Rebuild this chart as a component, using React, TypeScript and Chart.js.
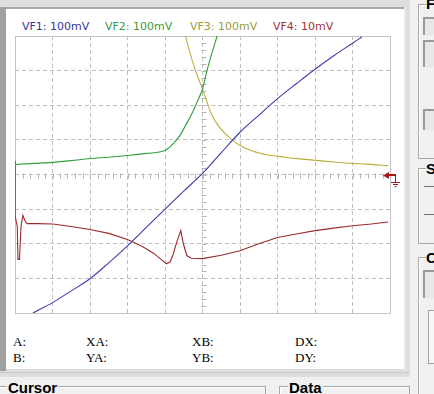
import React, { useEffect, useRef } from "react";
import { Chart, registerables } from "chart.js";

Chart.register(...registerables);

// ---- data (units: screen divisions) ----
const seriesLabels = ["VF1: 100mV", "VF2: 100mV", "VF3: 100mV", "VF4: 10mV"];
const seriesColors = ["#3c3caa", "#2f9e3a", "#bcae3c", "#9c2a2a"];
const labelColors = ["#34349a", "#3a9a3a", "#9a9a3a", "#9a3434"];
const labelLefts = [22, 105, 190, 273];

const vf1X = [0.48, 1.0, 1.5, 2.0, 2.5, 3.0, 3.5, 4.0, 4.5, 5.0, 5.5, 6.0, 6.5, 7.0, 7.5, 8.0, 8.5, 9.0, 9.25];
const vf1Y = [-4.0, -3.7, -3.36, -3.01, -2.55, -2.06, -1.53, -1.0, -0.48, 0.03, 0.63, 1.22, 1.71, 2.19, 2.62, 3.04, 3.43, 3.79, 3.97];

const vf2X = [0, 0.5, 1, 1.5, 2, 2.5, 3, 3.5, 4.0, 4.1, 4.25, 4.4, 4.55, 4.7, 4.85, 5.0, 5.12, 5.25, 5.39, 5.5];
const vf2Y = [0.29, 0.32, 0.35, 0.4, 0.46, 0.5, 0.55, 0.61, 0.69, 0.77, 0.93, 1.13, 1.42, 1.72, 2.08, 2.47, 3.0, 3.5, 4.0, 4.4];

const vf3X = [4.42, 4.55, 4.65, 4.75, 4.88, 5.0, 5.07, 5.25, 5.47, 5.73, 6.0, 6.35, 6.72, 7.2, 7.6, 8.1, 8.5, 9.0, 9.4, 9.95];
const vf3Y = [4.4, 3.98, 3.58, 3.21, 2.8, 2.47, 2.25, 1.72, 1.34, 1.06, 0.84, 0.67, 0.57, 0.5, 0.45, 0.4, 0.36, 0.32, 0.3, 0.25];

const vf4X = [0, 0.005, 0.06, 0.08, 0.12, 0.16, 0.21, 0.26, 0.32, 0.6, 1.0, 1.5, 2.0, 2.5, 3.0, 3.4, 3.7, 4.04, 4.14, 4.22, 4.31, 4.42, 4.49, 4.58, 4.7, 5.0, 5.5, 6.0, 6.5, 7.0, 7.5, 8.0, 8.5, 9.0, 9.5, 9.95];
const vf4Y = [0.4, -1.2, -1.5, -2.45, -2.45, -1.5, -1.18, -1.32, -1.42, -1.42, -1.43, -1.5, -1.59, -1.7, -1.88, -2.08, -2.28, -2.58, -2.52, -2.3, -1.96, -1.62, -2.0, -2.34, -2.42, -2.43, -2.33, -2.2, -2.0, -1.82, -1.72, -1.62, -1.55, -1.48, -1.43, -1.37];

const xMin = 0;
const xMax = 10;
const yMin = -4;
const yMax = 4;
const xCenter = 5;
const yCenter = 0;

const cursorRow1 = ["A:", "XA:", "XB:", "DX:"];
const cursorRow2 = ["B:", "YA:", "YB:", "DY:"];
const cursorLefts = [13, 86, 192, 295];

const seriesX = [vf1X, vf2X, vf3X, vf4X];
const seriesY = [vf1Y, vf2Y, vf3Y, vf4Y];

const graticulePlugin = {
  id: "graticule",
  beforeDatasetsDraw(chart: any) {
    const { ctx, chartArea: a, scales } = chart;
    const x = scales.x;
    const y = scales.y;
    ctx.save();
    ctx.strokeStyle = "#b4b4b4";
    ctx.lineWidth = 1;
    const cx = Math.round(x.getPixelForValue(xCenter)) + 0.5;
    const cy = Math.round(y.getPixelForValue(yCenter)) + 0.5;
    ctx.beginPath();
    for (let i = 1; i < 50; i++) {
      const v = xMin + (i * (xMax - xMin)) / 50;
      const px = Math.round(x.getPixelForValue(v)) + 0.5;
      ctx.moveTo(px, cy - 2);
      ctx.lineTo(px, cy + 3);
    }
    for (let i = 1; i < 40; i++) {
      const v = yMin + (i * (yMax - yMin)) / 40;
      const py = Math.round(y.getPixelForValue(v)) + 0.5;
      ctx.moveTo(cx - 2, py);
      ctx.lineTo(cx + 3, py);
    }
    ctx.stroke();
    ctx.strokeStyle = "#c4c4c4";
    ctx.strokeRect(
      Math.round(a.left) + 0.5,
      Math.round(a.top) + 0.5,
      Math.round(a.right) - Math.round(a.left),
      Math.round(a.bottom) - Math.round(a.top)
    );
    ctx.restore();
  },
  afterDraw(chart: any) {
    const { ctx, chartArea: a, scales } = chart;
    const cy = Math.round(scales.y.getPixelForValue(yCenter));
    const tip = Math.round(a.right) - 7;
    ctx.save();
    ctx.fillStyle = "#a81616";
    ctx.strokeStyle = "#a81616";
    ctx.beginPath();
    ctx.moveTo(tip, cy + 0.5);
    ctx.lineTo(tip + 6, cy - 3);
    ctx.lineTo(tip + 6, cy + 4);
    ctx.closePath();
    ctx.fill();
    ctx.fillRect(tip + 6, cy - 1, 7, 2);
    ctx.fillRect(tip + 12, cy - 1, 1, 8);
    ctx.fillRect(tip + 8, cy + 7, 9, 1);
    ctx.fillRect(tip + 10, cy + 9, 5, 1);
    ctx.fillRect(tip + 11.5, cy + 11, 2, 1);
    ctx.restore();
  },
};

function ChartPanel() {
  const ref = useRef<HTMLCanvasElement | null>(null);
  useEffect(() => {
    if (!ref.current) return;
    const datasets = seriesLabels.map((label, i) => ({
      label,
      data: seriesX[i].map((xv, j) => ({ x: xv, y: seriesY[i][j] })),
      borderColor: seriesColors[i],
      backgroundColor: seriesColors[i],
      borderWidth: 1.1,
      pointRadius: 0,
      fill: false,
      tension: 0,
      cubicInterpolationMode: i === 3 ? "default" : "monotone",
    }));
    const chart = new Chart(ref.current, {
      type: "line",
      data: { datasets: datasets as any },
      options: {
        animation: false,
        responsive: false,
        devicePixelRatio: 1,
        layout: { padding: { left: 3, top: 3, right: 12, bottom: 3 } },
        plugins: { legend: { display: false }, tooltip: { enabled: false } },
        events: [],
        scales: {
          x: {
            type: "linear",
            min: xMin,
            max: xMax,
            ticks: { display: false, stepSize: 1 },
            grid: { color: "#c0c0c0", drawTicks: false, lineWidth: 1 },
            border: { display: false, dash: [4, 3] },
          },
          y: {
            type: "linear",
            min: yMin,
            max: yMax,
            ticks: { display: false, stepSize: 1 },
            grid: { color: "#c0c0c0", drawTicks: false, lineWidth: 1 },
            border: { display: false, dash: [4, 3] },
          },
        },
      } as any,
      plugins: [graticulePlugin],
    });
    return () => chart.destroy();
  }, []);
  return (
    <canvas
      ref={ref}
      width={390}
      height={283}
      style={{ position: "absolute", left: 12, top: 33, width: 390, height: 283 }}
    />
  );
}

const abs = (l: number, t: number, w: number, h: number, extra: any = {}) => ({
  position: "absolute" as const,
  left: l,
  top: t,
  width: w,
  height: h,
  ...extra,
});

export default function App() {
  const serif = { fontFamily: "'Liberation Serif', 'Times New Roman', serif", fontSize: 13, lineHeight: "15px", color: "#000" };
  const bold = { fontFamily: "'Liberation Sans', Arial, sans-serif", fontWeight: 700, fontSize: 15, lineHeight: "17px", color: "#000", background: "#f0f0f0" };
  return (
    <div style={{ position: "fixed", left: 0, top: 0, width: 434, height: 394, overflow: "hidden", background: "#f0f0f0" }}>
      {/* main scope panel frame */}
      <div style={abs(0, 0, 410, 377, { background: "#dedede" })} />
      <div style={abs(0, 7, 406, 2, { background: "#a8a8a8" })} />
      <div style={abs(0, 7, 6, 364, { background: "#a0a0a0" })} />
      <div style={abs(404, 7, 2, 364, { background: "#e8e8e8" })} />
      <div style={abs(0, 372, 410, 1, { background: "#c8c8c8" })} />
      <div style={abs(6, 9, 398, 360, { background: "#ffffff" })} />

      {/* channel labels */}
      {seriesLabels.map((t, i) => (
        <span
          key={t}
          style={{
            position: "absolute",
            left: labelLefts[i],
            top: 20,
            fontFamily: "'DejaVu Sans', Verdana, sans-serif",
            fontSize: 11,
            lineHeight: "13px",
            color: labelColors[i],
            whiteSpace: "nowrap",
          }}
        >
          {t}
        </span>
      ))}

      <ChartPanel />

      {/* cursor readouts */}
      {cursorRow1.map((t, i) => (
        <span key={"r1" + t} style={{ position: "absolute", left: cursorLefts[i], top: 334, ...serif }}>{t}</span>
      ))}
      {cursorRow2.map((t, i) => (
        <span key={"r2" + t} style={{ position: "absolute", left: cursorLefts[i], top: 350, ...serif }}>{t}</span>
      ))}

      {/* bottom group boxes */}
      <div style={abs(0, 386, 265, 20, { borderTop: "1px solid #a8a8a8", borderRight: "1px solid #a8a8a8", boxShadow: "inset 0 1px 0 #fff" })} />
      <span style={{ position: "absolute", left: 7, top: 379, padding: "0 1px", ...bold }}>Cursor</span>
      <div style={abs(279, 386, 129, 20, { borderTop: "1px solid #a8a8a8", borderLeft: "1px solid #a8a8a8", borderRight: "1px solid #a8a8a8", boxShadow: "inset 1px 1px 0 #fff" })} />
      <span style={{ position: "absolute", left: 288, top: 379, padding: "0 1px", ...bold }}>Data</span>

      {/* right side group boxes */}
      <div style={abs(418, 4, 30, 153, { border: "1px solid #a8a8a8", boxShadow: "inset 1px 1px 0 #fff" })} />
      <span style={{ position: "absolute", left: 426, top: -5, ...bold }}>F</span>
      <div style={abs(423, 17, 14, 16, { borderLeft: "2px solid #9a9a9a", borderTop: "2px solid #9a9a9a", background: "#e8e8e8" })} />
      <div style={abs(423, 40, 14, 25, { borderLeft: "2px solid #9a9a9a", borderTop: "2px solid #9a9a9a", background: "#e8e8e8" })} />
      <div style={abs(423, 109, 14, 19, { borderLeft: "2px solid #9a9a9a", borderTop: "2px solid #9a9a9a", background: "#e8e8e8" })} />

      <div style={abs(418, 168, 30, 74, { border: "1px solid #a8a8a8", boxShadow: "inset 1px 1px 0 #fff" })} />
      <span style={{ position: "absolute", left: 426, top: 160, ...bold }}>S</span>
      <div style={abs(424, 186, 10, 1, { background: "#707070" })} />
      <div style={abs(424, 214, 10, 1, { background: "#707070" })} />

      <div style={abs(418, 257, 30, 150, { border: "1px solid #a8a8a8", boxShadow: "inset 1px 1px 0 #fff" })} />
      <span style={{ position: "absolute", left: 426, top: 249, ...bold }}>C</span>
      <div style={abs(423, 270, 14, 26, { borderLeft: "2px solid #9a9a9a", borderTop: "2px solid #9a9a9a", background: "#e8e8e8" })} />
      <div style={abs(428, 310, 14, 52, { border: "1px solid #a0a0a0", background: "#f8f8f8" })} />
    </div>
  );
}
